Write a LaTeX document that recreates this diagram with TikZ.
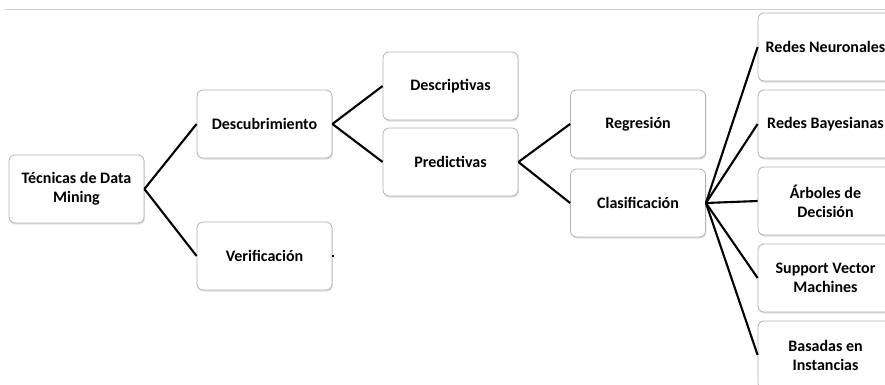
\documentclass[tikz,border=0pt]{standalone}
\usepackage{fontspec}
\setmainfont{Carlito}
\usetikzlibrary{shadows}
\definecolor{boxline}{RGB}{178,178,178}
\definecolor{rulegray}{RGB}{205,205,205}
\tikzset{
  box/.style={draw=boxline, line width=0.8pt, fill=white, rounded corners=6pt,
    minimum width=135pt, minimum height=68pt, inner sep=2pt,
    align=center, font=\bfseries\fontsize{16}{19}\selectfont,
    drop shadow={opacity=0.25, shadow xshift=0.8pt, shadow yshift=-1.6pt}},
  link/.style={black, line width=2.1pt},
}
\begin{document}
\begin{tikzpicture}[x=1pt,y=-1pt]
  \useasboundingbox (0,0) rectangle (885,385);
  \clip (0,0) rectangle (885,385);
  \draw[rulegray, line width=1pt] (5,10) -- (885,10);

  % tree nodes (positions are box centres)
  \node[box] (tec)  at (76.5,189)  {Técnicas de Data\\Mining};
  \node[box] (desc) at (264.5,124) {Descubrimiento};
  \node[box] (ver)  at (264.5,256) {Verificación};
  \node[box] (dsp)  at (450.5,86)  {Descriptivas};
  \node[box] (pre)  at (450.5,162) {Predictivas};
  \node[box] (reg)  at (638,124)   {Regresión};
  \node[box] (cla)  at (638,203)   {Clasificación};
  \node[box] (rn)   at (825.5,47)  {Redes Neuronales};
  \node[box] (rb)   at (825.5,124) {Redes Bayesianas};
  \node[box] (ad)   at (825.5,201) {Árboles de\\Decisión};
  \node[box] (svm)  at (825.5,278) {Support Vector\\Machines};
  \node[box] (bi)   at (825.5,355) {Basadas en\\Instancias};
  \coordinate (verstub) at ([xshift=2pt]ver.east);

  % connectors
  \draw[link] (tec.east) -- (desc.west);
  \draw[link] (tec.east) -- (ver.west);
  \draw[link] (desc.east) -- (dsp.west);
  \draw[link] (desc.east) -- (pre.west);
  \draw[link] (pre.east) -- (reg.west);
  \draw[link] (pre.east) -- (cla.west);
  \foreach \t in {rn,rb,ad,svm,bi}
    \draw[link] (cla.east) -- (\t.west);
  \draw[link, line width=1.2pt] (ver.east) -- (verstub);
\end{tikzpicture}
\end{document}
